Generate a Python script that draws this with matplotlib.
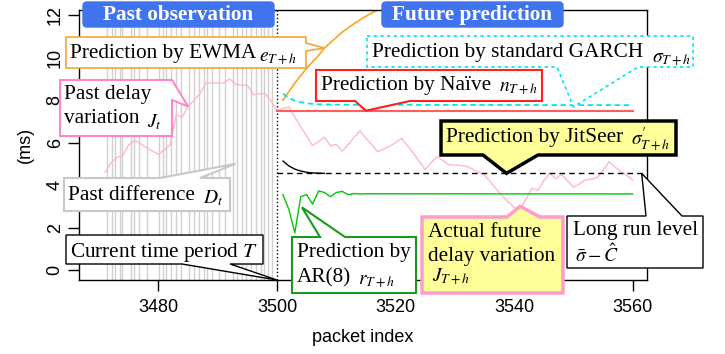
import numpy as np
import matplotlib.pyplot as plt
import matplotlib.transforms as mtransforms
from matplotlib.patches import Polygon, FancyBboxPatch

plt.rcParams['mathtext.fontset'] = 'stix'
plt.rcParams['font.family'] = 'Liberation Sans'

W, H = 725, 354

# observed delay variation J_t (past) and what actually came after (future)
past_idx = np.arange(3471, 3501)
past_jitter = [4.6, 5.05, 5.3, 5.4, 5.9, 6.1, 5.95, 5.75, 5.6, 5.45,
               5.65, 5.9, 7.3, 7.2, 7.7, 8.0, 8.3, 8.8, 8.8, 8.8,
               8.8, 9.0, 8.75, 8.7, 8.7, 8.25, 8.3, 8.3, 7.95, 7.5]
future_idx = np.arange(3501, 3561)
future_jitter = [7.6, 7.68, 7.2, 6.75, 6.3, 5.85, 6.05, 6.25, 5.85, 5.92,
                 5.6, 5.9, 6.25, 6.55, 6.2, 5.9, 5.57, 5.7, 5.83, 6.0,
                 6.2, 5.85, 5.5, 5.1, 4.74, 5.05, 5.33, 5.15, 4.95, 4.94,
                 4.92, 4.88, 4.75, 4.6, 4.47, 4.15, 3.8, 3.5, 3.2, 2.95,
                 2.85, 3.35, 3.85, 3.75, 4.2, 4.55, 4.3, 4.5, 4.2, 3.9,
                 4.05, 4.24, 4.28, 4.35, 4.7, 5.1, 4.85, 4.63, 4.45, 4.24]

# positions of the past differences D_t
diff_pos = [3471.4, 3472.2, 3472.7, 3473.5, 3473.9, 3475.3, 3475.9, 3476.7,
            3478.1, 3480.1, 3480.7, 3481.3, 3482.1, 3482.9, 3483.8, 3485.2,
            3486.0, 3486.8, 3487.7, 3488.2, 3489.1, 3490.2, 3491.3, 3492.5,
            3493.3, 3494.1, 3494.7, 3495.6, 3496.4, 3497.3, 3497.8, 3498.4,
            3499.2]

# forecasts
ewma_idx = np.arange(3501, 3519)
ewma = [8.0, 8.4, 8.8, 9.15, 9.5, 9.8, 10.1, 10.45, 10.7, 10.95,
        11.2, 11.4, 11.6, 11.78, 11.95, 12.1, 12.25, 12.4]
garch_idx = [3501, 3502, 3503, 3504, 3505, 3506, 3507, 3510, 3560]
garch = [8.3, 8.1, 7.97, 7.9, 7.85, 7.82, 7.8, 7.78, 7.76]
naive_idx = [3500, 3560]
naive = [7.5, 7.5]
jitseer_idx = np.arange(3501, 3509)
jitseer = [5.13, 4.9, 4.75, 4.66, 4.6, 4.57, 4.56, 4.55]
long_run = 4.55
ar_idx = [3501, 3502, 3503, 3504, 3505, 3506, 3507, 3508, 3509, 3510,
          3511, 3512, 3513, 3514, 3515, 3560]
ar = [3.55, 2.85, 1.75, 3.45, 3.55, 3.1, 3.72, 3.65, 3.45, 3.65,
      3.7, 3.55, 3.6, 3.58, 3.59, 3.58]

fig = plt.figure(figsize=(W / 100, H / 100), dpi=100)
ax = fig.add_axes([79 / W, 1 - 280 / H, (647 - 79) / W, (280 - 10) / H])
ax.set_xlim(3466.6, 3562.4)
ax.set_ylim(-0.47, 12.24)

ax.vlines(diff_pos, 0, 1, transform=ax.get_xaxis_transform(),
          colors='#d0d0d0', lw=1)
ax.plot(np.concatenate([past_idx, future_idx]), past_jitter + future_jitter,
        color='#ffb8c8', lw=1)
ax.axvline(3500, color='black', ls=':', lw=1)
ax.plot(ewma_idx, ewma, color='#ffa41c', lw=1.2)
ax.plot(garch_idx, garch, color='#00e4f0', lw=1.3, ls=(0, (3, 2)))
ax.plot(naive_idx, naive, color='#ff5c5c', lw=1.5)
ax.hlines(long_run, 3500, 3561.5, colors='black', lw=1, ls=(0, (4, 3)))
ax.plot(jitseer_idx, jitseer, color='black', lw=1)
ax.plot(ar_idx, ar, color='#00c800', lw=1)

ax.set_xticks([3480, 3500, 3520, 3540, 3560])
ax.set_yticks(range(0, 13, 2))
ax.tick_params(direction='out', length=8, width=1, labelsize=13)
ax.tick_params(axis='x', pad=6)
ax.tick_params(axis='y', pad=3)
for lab in ax.get_yticklabels():
    lab.set_rotation(90)
    lab.set_va('center')
for s in ax.spines.values():
    s.set_linewidth(1)

# pixel coordinates, origin at top-left
px = mtransforms.Affine2D().scale(0.01, -0.01).translate(0, H / 100) + fig.dpi_scale_trans


def at(x, y):
    return tuple((ax.transData + px.inverted()).transform((x, y)))


def bubble(x0, y0, x1, y1, side, a, b, tip, edge, face='white', lw=1.2, ls='-'):
    if side == 'top':
        verts = [(x0, y0), (a, y0), tip, (b, y0), (x1, y0), (x1, y1), (x0, y1)]
    elif side == 'bottom':
        verts = [(x0, y0), (x1, y0), (x1, y1), (b, y1), tip, (a, y1), (x0, y1)]
    else:
        verts = [(x0, y0), (x1, y0), (x1, a), tip, (x1, b), (x1, y1), (x0, y1)]
    fig.add_artist(Polygon(verts, closed=True, transform=px, fc=face, ec=edge,
                           lw=lw, ls=ls, joinstyle='miter', zorder=5))


def say(x, y, s, size=15.3, **kw):
    fig.text(x, y, s, transform=px, fontsize=size, family='Liberation Serif',
             va='baseline', ha='left', zorder=6, **kw)


# section headers
for x0, x1, title in [(83, 274, 'Past observation'), (382, 563, 'Future prediction')]:
    fig.add_artist(FancyBboxPatch((x0, 2), x1 - x0, 25, transform=px,
                                  boxstyle='round,pad=0,rounding_size=4',
                                  fc='#3f74ee', ec='#3f74ee', zorder=5))
    fig.text((x0 + x1) / 2, 15, title, transform=px, fontsize=15.3,
             family='Liberation Serif', weight='bold', color='white',
             ha='center', va='center', zorder=6)

bubble(66, 37, 306, 68, 'right', 43, 51, at(3508, ewma[7]), '#f5a43a')
say(70, 58, 'Prediction by EWMA')
say(259, 62, r'$e_{T+h}$', size=14)

bubble(367, 36, 693, 67, 'bottom', 557, 638, at(3550, 7.68), '#00e4f0', ls=(0, (2, 2)))
say(372, 57, 'Prediction by standard GARCH')
say(652, 63, r'$\sigma_{T+h}$', size=14)

bubble(316, 70, 542, 101, 'bottom', 355, 410, at(3515, naive[0]), '#ff2020', lw=1.5)
say(321, 90, 'Prediction by Naïve')
say(499, 92, r'$n_{T+h}$', size=14)

bubble(441, 121, 676, 155, 'bottom', 483, 538, at(3538.7, long_run), 'black',
       face='#ffff99', lw=2.5)
say(446, 142, 'Prediction by JitSeer')
say(631, 146, r'$\sigma_{T+h}^{\prime}$', size=14)

bubble(60, 80, 172, 136, 'right', 80, 100, at(3485, past_jitter[14]), '#ff88c4', lw=1.5)
say(64, 99, 'Past delay')
say(64, 123, 'variation')
say(147, 127, r'$J_t$', size=14)

bubble(64, 178, 230, 211, 'top', 160, 200, at(3493, 5.0), '#c8c8c8', lw=1.5)
say(68, 200, 'Past difference')
say(203, 203, r'$D_t$', size=14)

bubble(66, 235, 263, 264, 'bottom', 182, 230, at(3500, -0.47), 'black', lw=1)
say(70, 257, r'Current time period $T$')

bubble(292, 237, 416, 293, 'top', 320, 345, at(3504.2, 2.95), '#1a9a1a', lw=1.5)
say(297, 257, 'Prediction by')
say(297, 282, 'AR(8)')
say(358, 285, r'$r_{T+h}$', size=14)

bubble(422, 217, 563, 293, 'top', 507, 540, at(3541, 3.0), '#ff9ccc',
       face='#ffff99', lw=2.5)
say(428, 237, 'Actual future')
say(428, 261, 'delay variation')
say(432, 282, r'$J_{T+h}$', size=14)

bubble(567, 216, 703, 268, 'top', 646, 682, at(3561.5, long_run), 'black', lw=1)
say(573, 235, 'Long run level')
say(575, 262, r'$\bar{\sigma} - \hat{C}$', size=14)

fig.text(25, 145, '(ms)', transform=px, fontsize=13, rotation=90,
         ha='center', va='center')
fig.text(363, 338, 'packet index', transform=px, fontsize=13,
         ha='center', va='center')

fig.savefig('out.png', dpi=100)
